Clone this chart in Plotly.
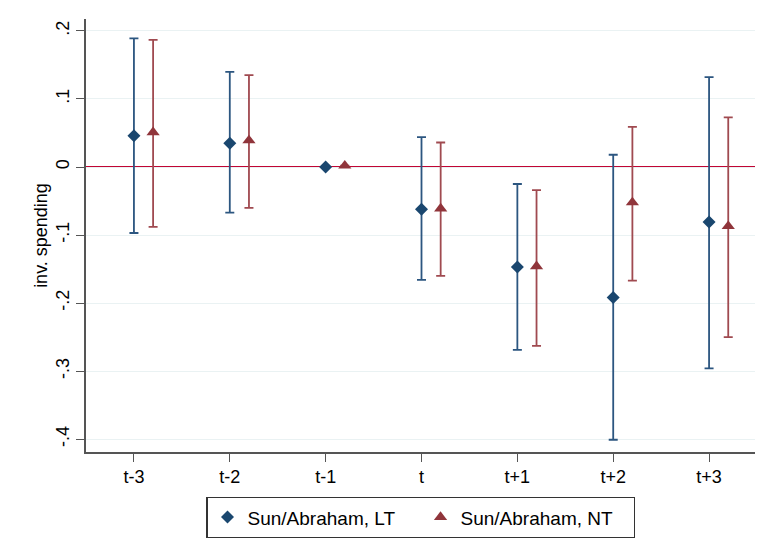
import plotly.graph_objects as go

periods = ["t-3", "t-2", "t-1", "t", "t+1", "t+2", "t+3"]
lt_est = [0.046, 0.035, 0.0, -0.062, -0.147, -0.192, -0.081]
lt_hi = [0.189, 0.140, 0.0, 0.044, -0.025, 0.018, 0.132]
lt_lo = [-0.097, -0.067, 0.0, -0.166, -0.269, -0.401, -0.296]
nt_est = [0.051, 0.039, 0.002, -0.061, -0.146, -0.052, -0.087]
nt_hi = [0.187, 0.135, 0.002, 0.036, -0.034, 0.059, 0.073]
nt_lo = [-0.088, -0.060, 0.002, -0.160, -0.263, -0.167, -0.250]
y_ticks = [0.2, 0.1, 0.0, -0.1, -0.2, -0.3, -0.4]
y_labels = [".2", ".1", "0", "-.1", "-.2", "-.3", "-.4"]

navy = "#1a476f"
maroon = "#90353b"

xs = list(range(1, len(periods) + 1))
off = 0.2

def bars(est, hi, lo):
    plus = [h - e for h, e in zip(hi, est)]
    minus = [e - l for e, l in zip(est, lo)]
    return plus, minus

fig = go.Figure()
p, m = bars(lt_est, lt_hi, lt_lo)
fig.add_trace(go.Scatter(
    x=xs, y=lt_est, mode="markers", name="Sun/Abraham, LT",
    marker=dict(symbol="diamond", size=10, color=navy),
    error_y=dict(type="data", symmetric=False, array=p, arrayminus=m,
                 color="#2c5680", thickness=1.8, width=4.5),
))
p, m = bars(nt_est, nt_hi, nt_lo)
fig.add_trace(go.Scatter(
    x=[x + off for x in xs], y=nt_est, mode="markers", name="Sun/Abraham, NT",
    marker=dict(symbol="triangle-up", size=11.5, color=maroon),
    error_y=dict(type="data", symmetric=False, array=p, arrayminus=m,
                 color="#a04a50", thickness=1.8, width=4.5),
))

fig.add_shape(type="line", xref="paper", yref="y", x0=0, x1=1, y0=0, y1=0,
              line=dict(color="#c10534", width=2), layer="below")

fig.update_layout(
    width=755, height=537,
    margin=dict(l=78, r=6, t=11, b=93, autoexpand=False),
    paper_bgcolor="white", plot_bgcolor="white",
    font=dict(family="Liberation Sans, Arial, sans-serif", size=18, color="black"),
    showlegend=True,
    legend=dict(orientation="h", x=0.499, xanchor="center", y=-0.104, yanchor="top",
                bordercolor="#333333", borderwidth=1.2, font=dict(size=19),
                entrywidth=168, entrywidthmode="pixels", tracegroupgap=0),
    xaxis=dict(range=[0.5, 7.5], tickmode="array", tickvals=xs, ticktext=periods,
               showgrid=False, zeroline=False, showline=True, linecolor="#555555",
               linewidth=1.5, ticks="outside", ticklen=8, tickcolor="#555555",
               tickfont=dict(size=18)),
    yaxis=dict(range=[-0.419, 0.2176], tickmode="array", tickvals=y_ticks,
               ticktext=y_labels, tickangle=-90, showgrid=True, gridcolor="#eaf2f3",
               gridwidth=1.2, zeroline=False, showline=True, linecolor="#555555",
               linewidth=1.5, ticks="outside", ticklen=8, tickcolor="#555555",
               tickfont=dict(size=18),
               title=dict(text="inv. spending", font=dict(size=18), standoff=1)),
)

fig.write_html("out.html")
